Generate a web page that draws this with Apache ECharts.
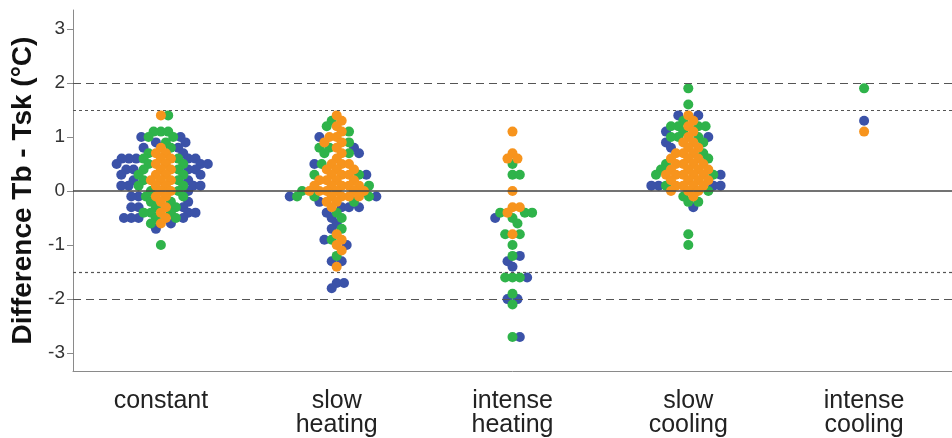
<!DOCTYPE html>
<html>
<head>
<meta charset="utf-8">
<script src="https://cdn.jsdelivr.net/npm/echarts@6/dist/echarts.min.js"></script>
<style>
html, body { margin: 0; padding: 0; background: #fff; }
#chart { width: 952px; height: 438px; }
</style>
</head>
<body>
<div id="chart"></div>
<script>
var categories = ['constant', 'slow\nheating', 'intense\nheating', 'slow\ncooling', 'intense\ncooling'];
var yTicks = [-3, -2, -1, 0, 1, 2, 3];

// values per category, one list per colour group
var orangeVals = [
    [1.4, 0.8, 0.7, 0.7, 0.6, 0.6, 0.5, 0.5, 0.4, 0.4, 0.3, 0.3, 0.2, 0.2, 0.2, 0.1, 0.1, 0.0, 0.0, -0.1, -0.1, -0.2, -0.3, -0.4, -0.5, -0.6],
    [1.4, 1.3, 1.2, 1.1, 1.0, 1.0, 0.9, 0.9, 0.8, 0.7, 0.6, 0.5, 0.5, 0.5, 0.4, 0.4, 0.4, 0.3, 0.3, 0.3, 0.2, 0.2, 0.2, 0.2, 0.1, 0.1, 0.1, 0.1, 0.1, 0.0, 0.0, 0.0, 0.0, 0.0, 0.0, -0.1, -0.1, -0.1, -0.1, -0.2, -0.2, -0.3, -0.8, -0.9, -1.0, -1.1, -1.4],
    [1.1, 0.7, 0.6, 0.6, 0.0, -0.3, -0.3, -0.4, -0.8],
    [1.4, 1.3, 1.2, 1.1, 1.0, 0.9, 0.9, 0.8, 0.8, 0.7, 0.7, 0.7, 0.6, 0.6, 0.6, 0.5, 0.5, 0.5, 0.5, 0.4, 0.4, 0.4, 0.4, 0.3, 0.3, 0.3, 0.3, 0.3, 0.2, 0.2, 0.2, 0.2, 0.1, 0.1, 0.1, 0.1, 0.0, 0.0, 0.0, -0.1],
    [1.1]
];
var greenVals = [
    [1.4, 1.1, 1.1, 1.1, 1.0, 1.0, 0.9, 0.8, 0.7, 0.6, 0.6, 0.5, 0.5, 0.4, 0.4, 0.3, 0.3, 0.2, 0.2, 0.1, 0.1, 0.0, 0.0, -0.1, -0.1, -0.2, -0.2, -0.3, -0.3, -0.4, -0.4, -0.4, -0.5, -0.5, -0.6, -1.0],
    [1.3, 1.2, 1.1, 0.9, 0.8, 0.8, 0.7, 0.7, 0.5, 0.3, 0.3, 0.1, 0.0, -0.1, -0.1, -0.1, -0.2, -0.4, -0.5, -0.7, -0.9, -1.2],
    [0.5, 0.3, 0.3, -0.4, -0.4, -0.4, -0.5, -0.6, -0.8, -0.8, -1.0, -1.2, -1.6, -1.6, -1.6, -1.9, -2.1, -2.7],
    [1.9, 1.6, 1.3, 1.2, 1.2, 1.2, 1.2, 1.1, 1.0, 1.0, 1.0, 0.9, 0.7, 0.6, 0.5, 0.4, 0.3, 0.3, 0.1, 0.0, -0.1, -0.2, -0.2, -0.8, -1.0],
    [1.9]
];
var blueVals = [
    [1.0, 1.0, 0.9, 0.9, 0.8, 0.8, 0.7, 0.6, 0.6, 0.6, 0.6, 0.6, 0.5, 0.5, 0.5, 0.4, 0.4, 0.4, 0.4, 0.3, 0.3, 0.2, 0.2, 0.1, 0.1, 0.1, 0.1, 0.0, -0.1, -0.1, -0.2, -0.3, -0.3, -0.3, -0.4, -0.4, -0.5, -0.5, -0.5, -0.5, -0.6, -0.7],
    [1.0, 0.8, 0.7, 0.5, 0.3, -0.1, -0.1, -0.2, -0.3, -0.3, -0.3, -0.4, -0.5, -0.6, -0.7, -0.9, -1.0, -1.3, -1.3, -1.7, -1.7, -1.8],
    [-0.5, -1.2, -1.3, -1.4, -1.6, -2.0, -2.0, -2.7],
    [1.4, 1.4, 1.1, 1.0, 0.9, 0.8, 0.3, 0.1, 0.1, 0.1, 0.1, -0.3],
    [1.3]
];

var colors = { orange: '#f7941d', green: '#2fb34a', blue: '#3b52a8' };

// grid / scale settings
var gridLeft = 73, gridRight = -10, gridTop = 10, gridBottom = 67;
var xMin = -0.5, xMax = 4.5, yMin = -3.33, yMax = 3.35;
var pxPerX = (952 - gridLeft - gridRight) / (xMax - xMin);
var pxPerY = (438 - gridTop - gridBottom) / (yMax - yMin);
var dotSize = 10;
var minDist = 7.4;

// simple beeswarm: put each dot as close to the category centre as it can go
function swarm() {
    var out = { orange: [], green: [], blue: [] };
    for (var c = 0; c < categories.length; c++) {
        var pts = [];
        orangeVals[c].forEach(function (v) { pts.push({ y: v, g: 'orange' }); });
        greenVals[c].forEach(function (v) { pts.push({ y: v, g: 'green' }); });
        blueVals[c].forEach(function (v) { pts.push({ y: v, g: 'blue' }); });
        var placed = [];
        for (var i = 0; i < pts.length; i++) {
            var yp = pts[i].y * pxPerY;
            var cands = [0];
            var near = [];
            for (var j = 0; j < placed.length; j++) {
                var dy = placed[j].yp - yp;
                if (Math.abs(dy) < minDist) {
                    var dx = Math.sqrt(minDist * minDist - dy * dy);
                    near.push({ xp: placed[j].xp, dy: dy });
                    cands.push(placed[j].xp + dx, placed[j].xp - dx);
                }
            }
            cands.sort(function (a, b) { return Math.abs(a) - Math.abs(b); });
            var xp = 0;
            for (var k = 0; k < cands.length; k++) {
                var ok = true;
                for (var n = 0; n < near.length; n++) {
                    var ddx = cands[k] - near[n].xp;
                    if (ddx * ddx + near[n].dy * near[n].dy < minDist * minDist - 0.01) { ok = false; break; }
                }
                if (ok) { xp = cands[k]; break; }
            }
            placed.push({ xp: xp, yp: yp });
            out[pts[i].g].push([c + xp / pxPerX, pts[i].y]);
        }
    }
    return out;
}

var pts = swarm();
var myChart = echarts.init(document.getElementById('chart'));

function dotSeries(name) {
    return {
        name: name,
        type: 'scatter',
        xAxisIndex: 1,
        symbolSize: dotSize,
        itemStyle: { color: colors[name], opacity: 1 },
        data: pts[name],
        z: 3
    };
}

var option = {
    animation: false,
    grid: { left: gridLeft, right: gridRight, top: gridTop, bottom: gridBottom },
    xAxis: [{
        type: 'category',
        data: categories,
        boundaryGap: true,
        axisLine: { onZero: false, lineStyle: { color: '#8a8a8a', width: 1 } },
        axisTick: { alignWithLabel: true, length: 7, lineStyle: { color: '#8a8a8a' } },
        axisLabel: { fontSize: 25, color: '#222', margin: 18, lineHeight: 24, fontFamily: 'Liberation Sans, Arial, sans-serif' },
        splitLine: { show: false }
    }, {
        type: 'value',
        min: xMin,
        max: xMax,
        show: false
    }],
    yAxis: {
        type: 'value',
        min: yMin,
        max: yMax,
        name: 'Difference Tb - Tsk (°C)',
        nameLocation: 'middle',
        nameGap: 35,
        nameTextStyle: { fontSize: 28, fontWeight: 'bold', color: '#111', fontFamily: 'Liberation Sans, Arial, sans-serif' },
        axisLine: { show: true, onZero: false, lineStyle: { color: '#8a8a8a', width: 1 } },
        axisTick: { show: true, length: 6, customValues: yTicks, lineStyle: { color: '#8a8a8a' } },
        axisLabel: { customValues: yTicks, fontSize: 19, color: '#333', margin: 8, fontFamily: 'Liberation Sans, Arial, sans-serif' },
        splitLine: { show: false }
    },
    series: [
        {
            type: 'line',
            xAxisIndex: 1,
            data: [],
            markLine: {
                silent: true,
                symbol: 'none',
                label: { show: false },
                data: [
                    { yAxis: 0, lineStyle: { color: '#444', width: 1.5, type: 'solid' } },
                    { yAxis: 2, lineStyle: { color: '#555', width: 1.2, type: [8, 5] } },
                    { yAxis: -2, lineStyle: { color: '#555', width: 1.2, type: [8, 5] } },
                    { yAxis: 1.5, lineStyle: { color: '#555', width: 1.2, type: [3, 3] } },
                    { yAxis: -1.5, lineStyle: { color: '#555', width: 1.2, type: [3, 3] } }
                ]
            },
            z: 2
        },
        dotSeries('blue'),
        dotSeries('green'),
        dotSeries('orange')
    ]
};
myChart.setOption(option);
</script>
</body>
</html>
